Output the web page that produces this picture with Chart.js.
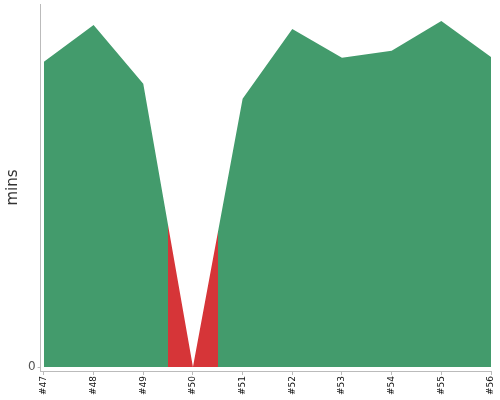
<!DOCTYPE html>
<html>
    <head>
        <meta charset="utf-8">
        <title>Build time trend</title>
        <script src="https://cdn.jsdelivr.net/npm/chart.js@4.4.0/dist/chart.umd.min.js"></script>
        <style>
            html, body {
                margin: 0;
                padding: 0;
                background: #fff;
            }
            #container {
                width: 500px;
                height: 400px;
            }
        </style>
    </head>
    <body>
        <div id="container">
            <canvas id="vis"></canvas>
        </div>
        <script>
            const builds = ['#47', '#48', '#49', '#50', '#51', '#52', '#53', '#54', '#55', '#56'];
            const durations = [8.41, 9.42, 7.80, 0, 7.39, 9.31, 8.52, 8.71, 9.53, 8.54];
            const results = ['SUCCESS', 'SUCCESS', 'SUCCESS', 'FAILURE', 'SUCCESS', 'SUCCESS', 'SUCCESS', 'SUCCESS', 'SUCCESS', 'SUCCESS'];

            const green = 'rgb(67,155,108)';
            const red = 'rgb(214,53,56)';

            // fill colour changes half way between builds, so use a hard-stop gradient
            function areaColor(context) {
                const chart = context.chart;
                const area = chart.chartArea;
                const x = chart.scales.x;
                if (!area || !x) return green;
                const width = area.right - area.left;
                const grad = chart.ctx.createLinearGradient(area.left, 0, area.right, 0);
                const pos = v => Math.min(1, Math.max(0, (x.getPixelForValue(v) - area.left) / width));
                grad.addColorStop(0, green);
                results.forEach((r, i) => {
                    if (r === 'SUCCESS') return;
                    const a = pos(i - 0.5);
                    const b = pos(i + 0.5);
                    grad.addColorStop(a, green);
                    grad.addColorStop(a, red);
                    grad.addColorStop(b, red);
                    grad.addColorStop(b, green);
                });
                grad.addColorStop(1, green);
                return grad;
            }

            new Chart(document.getElementById('vis'), {
                type: 'line',
                data: {
                    datasets: [{
                        label: 'Duration',
                        data: durations.map((d, i) => ({x: i, y: d})),
                        fill: 'origin',
                        backgroundColor: areaColor,
                        borderWidth: 0,
                        pointRadius: 0,
                        tension: 0
                    }]
                },
                options: {
                    responsive: true,
                    maintainAspectRatio: false,
                    animation: false,
                    layout: {
                        padding: {top: 4, right: 9, bottom: 4, left: 4}
                    },
                    plugins: {
                        legend: {display: false},
                        tooltip: {enabled: false}
                    },
                    scales: {
                        x: {
                            type: 'linear',
                            min: -0.066,
                            max: builds.length - 1,
                            afterBuildTicks: axis => {
                                axis.ticks = builds.map((b, i) => ({value: i}));
                            },
                            afterFit: axis => {
                                axis.paddingLeft = 0;
                                axis.paddingRight = 0;
                            },
                            grid: {
                                display: true,
                                drawOnChartArea: false,
                                tickLength: 4,
                                color: '#bbb'
                            },
                            border: {color: '#bbb'},
                            ticks: {
                                minRotation: 90,
                                maxRotation: 90,
                                padding: 1,
                                color: '#111',
                                font: {family: 'DejaVu Sans', size: 9},
                                callback: v => builds[v]
                            }
                        },
                        y: {
                            min: -0.11,
                            max: 10,
                            afterBuildTicks: axis => {
                                axis.ticks = [{value: 0}];
                            },
                            afterFit: axis => {
                                axis.paddingTop = 0;
                                axis.paddingBottom = 0;
                            },
                            grid: {
                                display: true,
                                drawOnChartArea: false,
                                tickLength: 3,
                                color: '#bbb'
                            },
                            border: {color: '#bbb'},
                            ticks: {
                                padding: 2,
                                color: '#555',
                                font: {family: 'DejaVu Sans', size: 12}
                            },
                            title: {
                                display: true,
                                text: 'mins',
                                color: '#333',
                                font: {family: 'DejaVu Sans', size: 15},
                                padding: {top: 0, bottom: 4}
                            }
                        }
                    }
                }
            });
        </script>
    </body>
</html>
